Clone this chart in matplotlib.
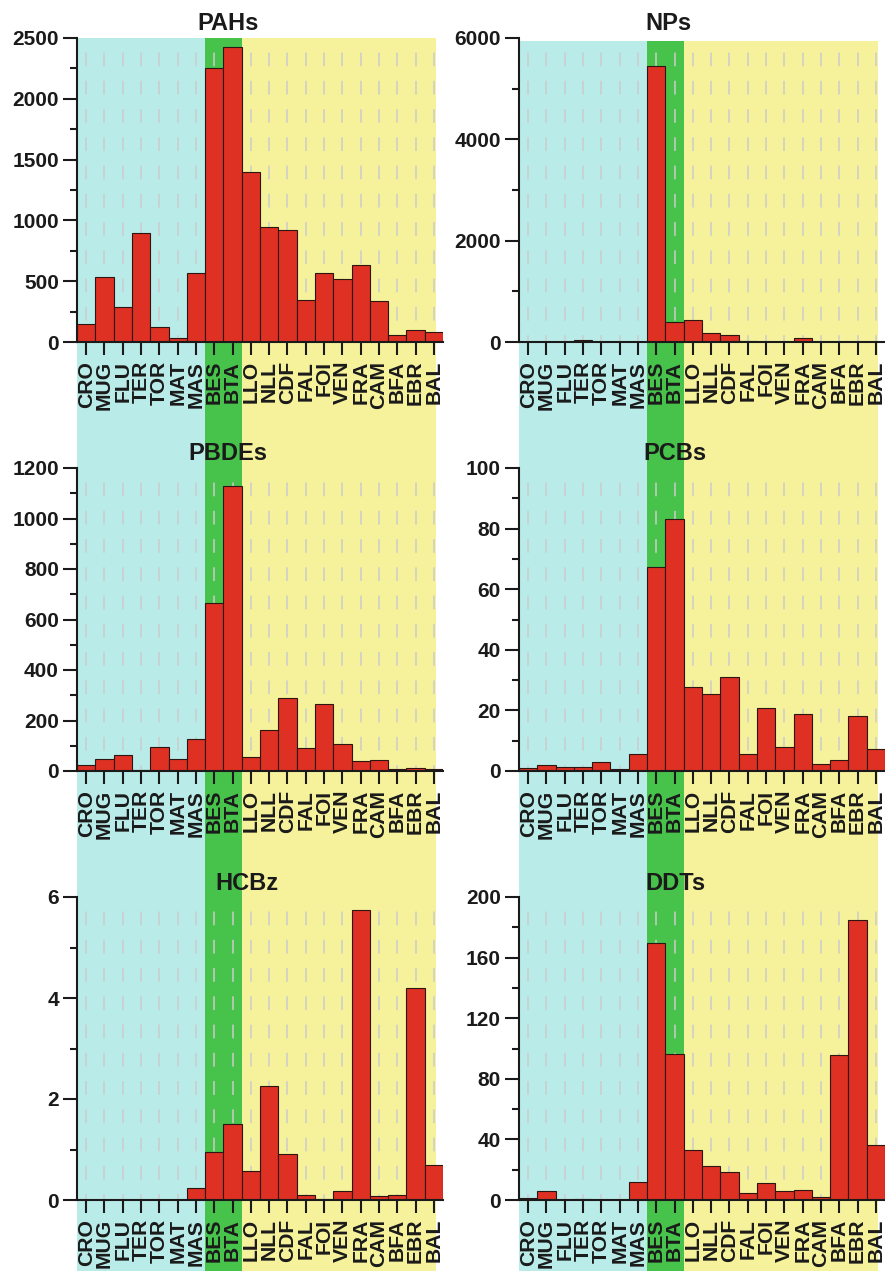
import matplotlib
matplotlib.use("Agg")
import matplotlib.pyplot as plt
from matplotlib.ticker import MultipleLocator

plt.rcParams['font.family'] = ['Liberation Sans', 'DejaVu Sans']
plt.rcParams['font.weight'] = 'bold'

# Sampling sites, west-to-east along the coast
sites = ["CRO", "MUG", "FLU", "TER", "TOR", "MAT", "MAS", "BES", "BTA", "LLO",
         "NLL", "CDF", "FAL", "FOI", "VEN", "FRA", "CAM", "BFA", "EBR", "BAL"]

pahs = [151, 536, 288, 893, 124, 33, 569, 2253, 2423, 1401,
        948, 920, 349, 569, 522, 637, 338, 60, 96, 82]
nps = [2, 0, 0, 33, 0, 0, 5, 5439, 396, 429,
       185, 132, 15, 3, 8, 73, 0, 0, 0, 0]
pbdes = [25, 46, 65, 5, 95, 49, 128, 664, 1127, 55,
         164, 290, 91, 265, 108, 40, 45, 9, 12, 8]
pcbs = [1.0, 1.9, 1.3, 1.3, 3.1, 0.7, 5.7, 67.2, 83.2, 27.7,
        25.3, 31.0, 5.7, 20.9, 8.0, 18.7, 2.2, 3.7, 18.2, 7.2]
hcbz = [0.005, 0.005, 0.005, 0.005, 0.005, 0.005, 0.24, 0.95, 1.51, 0.57,
        2.26, 0.92, 0.105, 0.02, 0.17, 5.74, 0.086, 0.105, 4.2, 0.69]
ddts = [1.5, 6.2, 0.1, 0.7, 0.2, 0.2, 11.7, 169.6, 96.3, 33.3,
        22.2, 18.3, 4.4, 11.2, 5.7, 6.6, 2.2, 95.4, 184.8, 36.1]

titles = ["PAHs", "NPs", "PBDEs", "PCBs", "HCBz", "DDTs"]
series = [pahs, nps, pbdes, pcbs, hcbz, ddts]
ymax = [2500, 6000, 1200, 100, 6, 200]
major = [500, 2000, 200, 20, 2, 40]
minor = [250, 1000, 100, 10, 1, 20]

# Site groups shown as coloured bands behind each column
group_spans = [(-0.5, 6.5), (6.5, 8.5), (8.5, 19.1)]
group_colors = ["#b9ebe9", "#47c24b", "#f6f29b"]

BAR = "#de3023"
INK = "#1a1a1a"

W, H = 885, 1271
fig = plt.figure(figsize=(W / 100, H / 100), dpi=100)

col_left = [77, 519]
col_width = 366
band_top = [38, 41]
rows = [(38, 342), (468, 771), (897, 1200)]
title_pos = [(228, 23), (668, 23), (228, 453), (675, 453), (247, 883), (675, 883)]

x = list(range(len(sites)))

# background bands spanning each full column
for c in range(2):
    bg = fig.add_axes([col_left[c] / W, 0, col_width / W, 1 - band_top[c] / H], zorder=0)
    bg.set_xlim(-0.5, 19.5)
    bg.set_ylim(0, 1)
    for (a, b), col in zip(group_spans, group_colors):
        bg.axvspan(a, b, color=col, lw=0)
    bg.axis("off")

for i, (vals, title) in enumerate(zip(series, titles)):
    r, c = divmod(i, 2)
    top, bot = rows[r]
    ax = fig.add_axes([col_left[c] / W, 1 - bot / H, col_width / W, (bot - top) / H], zorder=1)
    ax.patch.set_visible(False)
    ax.set_xlim(-0.5, 19.5)
    ax.set_ylim(0, ymax[i])

    # dashed guide lines at every site
    for xi in x:
        ax.plot([xi, xi], [1, 0], transform=ax.get_xaxis_transform(),
                color="#cccccc", lw=1.1, linestyle=(9, (9, 9.5)), zorder=1)

    ax.bar(x, vals, width=1.0, color=BAR, edgecolor="#2b1612", linewidth=0.8, zorder=3)

    ax.set_xticks(x)
    ax.set_xticklabels(sites, rotation=90, fontsize=15.2, fontweight="bold", color=INK)
    ax.yaxis.set_major_locator(MultipleLocator(major[i]))
    ax.yaxis.set_minor_locator(MultipleLocator(minor[i]))
    ax.tick_params(axis="y", which="major", direction="out", length=10, width=1.5,
                   labelsize=15, pad=3, colors=INK)
    ax.tick_params(axis="y", which="minor", direction="out", length=5, width=1.5, colors=INK)
    ax.tick_params(axis="x", which="major", direction="out", length=9.5, width=1.5,
                   pad=4, colors=INK)
    for lab in ax.get_yticklabels():
        lab.set_fontweight("bold")
    for s in ("top", "right"):
        ax.spines[s].set_visible(False)
    for s in ("left", "bottom"):
        ax.spines[s].set_linewidth(1.5)
        ax.spines[s].set_color(INK)
        ax.spines[s].set_zorder(4)

    tx, ty = title_pos[i]
    fig.text(tx / W, 1 - ty / H, title, ha="center", va="center",
             fontsize=17, fontweight="bold", color=INK)

fig.savefig("out.png", dpi=100)
